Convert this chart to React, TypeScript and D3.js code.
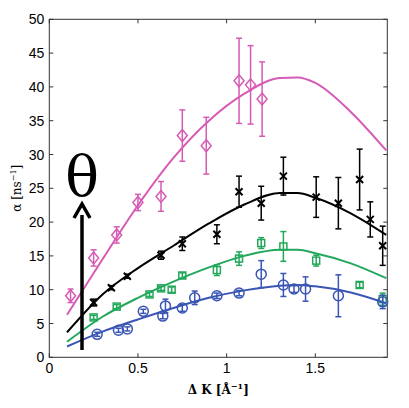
import React from "react";
import * as d3 from "d3";

const xTicks = [0, 0.5, 1, 1.5];
const yTicks = [0, 5, 10, 15, 20, 25, 30, 35, 40, 45, 50];
const curveX = [0.1, 0.3, 0.5, 0.7, 0.9, 1.1, 1.3, 1.4, 1.5, 1.7, 1.9];
const magCurve = [6.3, 14.5, 22.5, 29.5, 35, 39, 41.3, 41.4, 40.6, 36.3, 30.6];
const blkCurve = [3.7, 9.3, 13.2, 16.5, 19.8, 22.6, 24.3, 24.3, 23.6, 21.3, 18.1];
const grnCurve = [2.3, 6.0, 8.8, 11.2, 13.3, 15.0, 15.9, 15.9, 15.4, 13.9, 11.7];
const bluCurve = [1.6, 3.8, 5.6, 7.3, 8.8, 9.9, 10.6, 10.7, 10.5, 9.6, 8.0];

const magX = [0.12, 0.25, 0.38, 0.5, 0.63, 0.75, 0.885, 1.07, 1.135, 1.2];
const magY = [9.1, 14.7, 18.1, 22.9, 23.8, 32.8, 31.3, 40.9, 40.3, 38.2];
const magE = [1, 1.2, 1.2, 1.2, 2.2, 3.8, 4.2, 6.3, 5.8, 5.5];
const blkX = [0.25, 0.35, 0.44, 0.63, 0.75, 0.945, 1.07, 1.195, 1.32, 1.505, 1.63, 1.75, 1.81, 1.88];
const blkY = [8.1, 10.3, 12.0, 15.1, 16.8, 18.2, 24.5, 22.8, 26.8, 23.7, 22.8, 26.3, 20.4, 16.5];
const blkE = [0.5, 0.3, 0.3, 0.6, 1, 1.4, 2.3, 2.5, 2.8, 3, 3.8, 4.5, 2.6, 2.9];
const grnX = [0.25, 0.38, 0.565, 0.63, 0.69, 0.75, 0.945, 1.07, 1.195, 1.32, 1.505, 1.75, 1.88];
const grnY = [5.9, 7.5, 9.3, 10.2, 10.0, 12.1, 12.9, 14.6, 16.9, 16.4, 14.3, 10.7, 8.6];
const grnE = [0.3, 0.3, 0.3, 0.3, 0.4, 0.4, 0.8, 1, 0.8, 2.2, 0.8, 0.4, 0.9];
const bluX = [0.27, 0.39, 0.44, 0.53, 0.64, 0.655, 0.75, 0.82, 0.945, 1.07, 1.195, 1.32, 1.38, 1.445, 1.63, 1.88];
const bluY = [3.4, 4.0, 4.2, 6.8, 6.1, 7.6, 7.3, 8.8, 9.1, 9.5, 12.3, 10.7, 10.1, 10.1, 9.1, 8.2];
const bluE = [0.3, 0.3, 0.3, 0.3, 0.4, 1, 0.5, 1, 0.4, 0.4, 2, 1.7, 0.5, 1.8, 3.1, 1];

const W = 409, H = 408;
const L = 49.3, R = 387.3, T = 19.3, B = 357.3;

export default function App() {
  const x = d3.scaleLinear().domain([0, 1.906]).range([L, R]);
  const y = d3.scaleLinear().domain([0, 50]).range([B, T]);
  const line = d3.line<number>().x((_, i) => x(curveX[i])).y((v) => y(v)).curve(d3.curveMonotoneX);
  const series = [
    { c: "#d65bb5", curve: magCurve, xs: magX, ys: magY, es: magE, m: "diamond" },
    { c: "#000000", curve: blkCurve, xs: blkX, ys: blkY, es: blkE, m: "x" },
    { c: "#22a85a", curve: grnCurve, xs: grnX, ys: grnY, es: grnE, m: "square" },
    { c: "#3a55b4", curve: bluCurve, xs: bluX, ys: bluY, es: bluE, m: "circle" },
  ];
  const marker = (m: string, cx: number, cy: number, c: string, k: number) => {
    if (m === "diamond") return <path key={k} d={`M${cx},${cy - 6}L${cx + 5},${cy}L${cx},${cy + 6}L${cx - 5},${cy}Z`} fill="none" stroke={c} strokeWidth={1.5} />;
    if (m === "x") return <path key={k} d={`M${cx - 3.5},${cy - 3.5}L${cx + 3.5},${cy + 3.5}M${cx - 3.5},${cy + 3.5}L${cx + 3.5},${cy - 3.5}`} stroke={c} strokeWidth={2} />;
    if (m === "square") return <rect key={k} x={cx - 3.5} y={cy - 3.5} width={7} height={7} fill="none" stroke={c} strokeWidth={1.5} />;
    return <circle key={k} cx={cx} cy={cy} r={5} fill="none" stroke={c} strokeWidth={1.5} />;
  };
  return (
    <svg width={W} height={H} style={{ position: "absolute", left: 0, top: 0, background: "#fff" }} fontFamily="Liberation Sans, Arial, sans-serif">
      <rect x={L} y={T} width={R - L} height={B - T} fill="none" stroke="#333" strokeWidth={1} />
      {yTicks.map((t) => (
        <g key={"y" + t}>
          <line x1={L} x2={L + 4} y1={y(t)} y2={y(t)} stroke="#333" />
          <line x1={R} x2={R - 4} y1={y(t)} y2={y(t)} stroke="#333" />
          <text x={L - 5} y={y(t) + 5} textAnchor="end" fontSize={14}>{t}</text>
        </g>
      ))}
      {xTicks.map((t) => (
        <g key={"x" + t}>
          <line x1={x(t)} x2={x(t)} y1={B} y2={B - 4} stroke="#333" />
          <line x1={x(t)} x2={x(t)} y1={T} y2={T + 4} stroke="#333" />
          <text x={x(t)} y={B + 16} textAnchor="middle" fontSize={14}>{t}</text>
        </g>
      ))}
      <text transform={`translate(21,${(T + B) / 2}) rotate(-90)`} textAnchor="middle" fontSize={12} fontFamily="DejaVu Serif, serif">α [ns<tspan dy={-5} fontSize={8}>−1</tspan><tspan dy={5}>]</tspan></text>
      <text x={(L + R) / 2} y={394} textAnchor="middle" fontSize={12} fontFamily="DejaVu Serif, serif" fontWeight="bold">Δ K [Å<tspan dy={-5} fontSize={8}>−1</tspan><tspan dy={5}>]</tspan></text>
      {series.map((s, si) => (
        <g key={si}>
          <path d={line(s.curve) || ""} fill="none" stroke={s.c} strokeWidth={2} />
          {s.xs.map((xv, i) => (
            <g key={i}>
              <line x1={x(xv)} x2={x(xv)} y1={y(s.ys[i] - s.es[i])} y2={y(s.ys[i] + s.es[i])} stroke={s.c} strokeWidth={1.5} />
              <line x1={x(xv) - 3} x2={x(xv) + 3} y1={y(s.ys[i] - s.es[i])} y2={y(s.ys[i] - s.es[i])} stroke={s.c} strokeWidth={1.5} />
              <line x1={x(xv) - 3} x2={x(xv) + 3} y1={y(s.ys[i] + s.es[i])} y2={y(s.ys[i] + s.es[i])} stroke={s.c} strokeWidth={1.5} />
              {marker(s.m, x(xv), y(s.ys[i]), s.c, i)}
            </g>
          ))}
        </g>
      ))}
      <line x1={82} x2={82} y1={350} y2={215} stroke="#000" strokeWidth={3.5} />
      <path d="M74,218 L82,204 L90,218" fill="none" stroke="#000" strokeWidth={3.5} />
      <text x={82} y={196} textAnchor="middle" fontSize={56} fontFamily="DejaVu Serif, serif">θ</text>
    </svg>
  );
}
